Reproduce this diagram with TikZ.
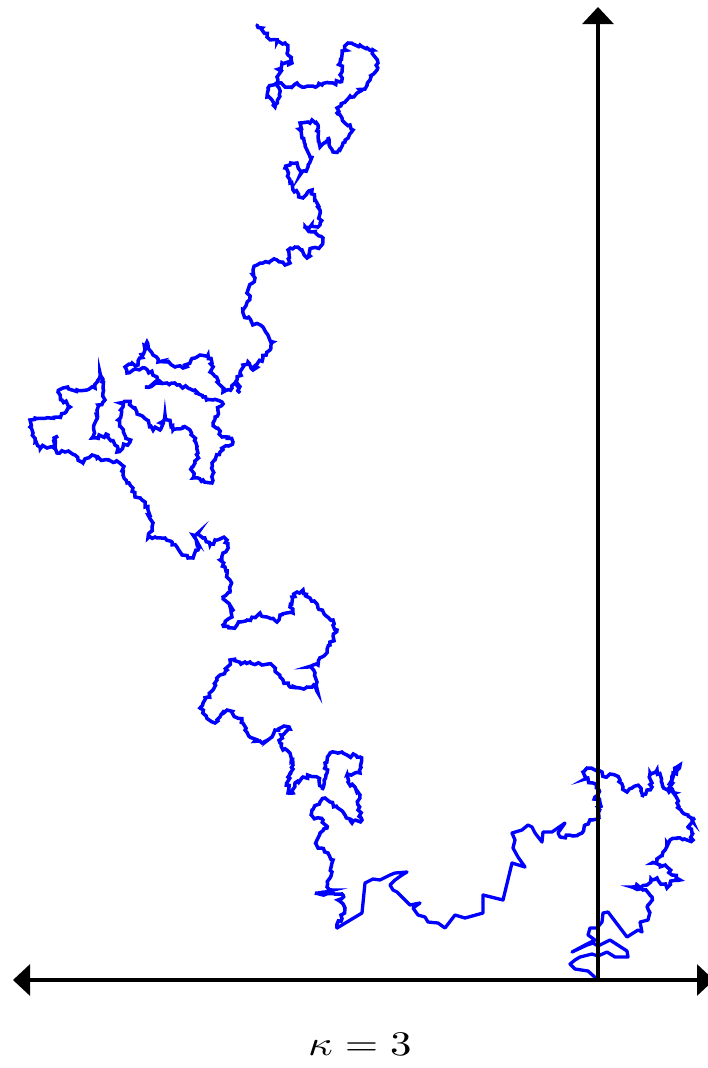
\documentclass[tikz,border=0pt]{standalone}
\usepackage{graphicx}
\usetikzlibrary{arrows.meta,decorations.pathmorphing}

\begin{document}
\begin{tikzpicture}[
	x=1pt, y=-1pt,
	axis/.style={ black, line width=3.2pt, {Triangle[width=31pt,length=17pt]}-{Triangle[width=31pt,length=17pt]} },
	axisup/.style={ black, line width=3.2pt, -{Triangle[width=31pt,length=17pt]} },
	trace/.style={ blue, line width=3.3pt, line join=round, line cap=round },
	tracefuzz/.style={ trace, line width=3.5pt, line join=miter, decorate, decoration={ random steps, segment length=2.8pt, amplitude=2pt } }
]
\pgfmathsetseed{3}
\useasboundingbox (0,0) rectangle (707,1068);

\coordinate (o) at (598,980);
\coordinate (xl) at (13,980);
\coordinate (xr) at (714,980);
\coordinate (yt) at (598,7);

\draw[trace] plot coordinates { (598,980) (588,971) (575,969) (570,964) (575,960) (580,957) (592,954) (598,956) (607,952) (615,957) (628,957) (627,951) (610,940) (598,946) (593,943) (587,945) (572,952) (587,944) (595,940) (588,935) (590,928) (597,928) (602,922) (603,913) (608,912) (627,937) (638,930) (642,932) (640,922) (648,920) (650,912) };

\draw[tracefuzz] plot coordinates { (650,912) (648,905) (652,897) (643,890) (632,887) (647,885) (652,880) (657,878) (667,888) (670,883) (680,880) (672,875) (667,867) (660,865) (652,863) (657,860) (663,852) (670,840) (677,838) (687,840) (693,840) (692,833) (688,827) (693,822) (695,818) (688,815) (682,812) (677,803) (675,793) (670,787) (672,780) (675,773) (677,767) (680,765) (673,777) (669,792) (662,783) (657,770) (650,773) (652,787) (647,790) (642,797) (640,787) (632,788) (627,792) (623,787) (620,780) (615,775) (610,774) (605,777) (602,772) (595,770) (587,768) (583,772) (585,779) (593,783) (599,790) (595,797) (600,803) (599,818) (592,820) (585,825) (582,833) (573,836) (560,837) };

\draw[trace] plot coordinates { (560,837) (558,833) (565,823) (552,832) (543,832) (542,842) (535,833) (532,827) (528,825) (522,830) (512,833) (515,840) (513,848) (518,857) (525,867) (512,863) (503,900) (483,895) (483,913) (465,918) (455,915) (445,928) (438,923) (428,922) (425,917) (418,915) (413,908) (420,903) (410,905) (407,902) (402,897) (397,892) (393,890) (390,885) (395,880) (402,875) (407,872) (395,873) (390,875) (380,880) (373,879) (365,883) (362,913) (337,928) };

\draw[tracefuzz] plot coordinates { (337,928) (345,908) (338,900) (343,895) (315,893) (333,890) (327,887) (330,878) (332,872) (333,860) (328,853) (318,848) (317,840) (320,833) (327,828) (323,820) (313,817) (312,810) (320,802) (325,798) (330,802) (345,815) (352,823) (362,820) (358,810) (360,795) (355,787) (348,782) (347,775) (360,773) (360,757) (347,755) (342,752) (330,753) (325,763) (327,773) (322,790) (317,777) (303,777) (295,783) (293,793) (288,793) (288,777) (293,765) (290,753) (283,750) (280,743) (281,735) (290,729) (284,726) (275,730) (272,737) (262,743) (250,737) (242,720) (227,710) (220,717) (215,723) (205,715) (200,708) (203,703) (208,697) (213,690) (217,680) (220,675) (227,670) (230,660) (243,663) (250,662) (262,665) (272,665) (275,670) (280,677) (290,687) (300,688) (307,687) (315,685) (318,693) (317,682) (315,673) (308,667) (318,665) (322,657) (327,652) (330,645) (337,630) (333,620) (325,615) (318,608) (310,598) (303,590) (297,592) (292,597) (290,607) (293,613) (280,615) (277,622) (267,617) (260,613) (247,620) (240,622) (237,625) (233,628) (223,625) (232,617) (233,610) (223,597) (230,592) (230,580) (225,567) (220,560) (223,553) (228,547) (227,540) (222,538) (215,540) (210,545) (203,538) (198,533) (193,535) (198,550) (193,558) (188,558) (182,555) (177,547) (172,542) (165,538) (155,537) (148,538) (152,527) (148,510) (142,500) (135,497) (133,488) (127,483) (123,475) (122,465) (115,462) (108,460) (97,458) (92,455) (83,463) (75,455) (65,452) (57,453) (55,440) (58,436) (52,447) (47,448) (40,447) (35,442) (33,433) (30,427) (30,420) (35,418) (50,418) (58,417) (65,413) (70,407) (62,400) (58,392) (63,388) (72,390) (87,390) (95,388) (100,373) (103,388) (105,400) (98,405) (92,438) (108,435) (115,445) (117,452) (123,447) (130,442) (118,420) (123,407) (120,403) (130,403) (140,415) (147,420) (148,427) (160,430) (165,415) (173,430) (183,427) (190,430) (197,447) (198,453) (195,463) (192,467) (193,478) (203,480) (212,483) (212,463) (220,452) (233,442) (228,437) (222,437) (213,423) (215,417) (222,402) (213,400) (203,397) (195,390) (177,385) (167,383) (157,383) (145,387) (155,382) (157,377) (145,368) (133,370) (127,373) (125,367) (132,363) (138,365) (145,350) (147,342) (153,355) (158,362) (167,362) (175,367) (183,368) (195,358) (200,355) (208,355) (212,363) (212,373) (217,378) (220,385) (223,392) (232,388) (235,383) (240,393) (237,380) (240,373) (243,365) (248,362) (253,370) (263,358) (270,350) (273,342) (263,327) (252,323) (247,318) (243,313) (250,297) (248,290) (255,278) (253,270) (257,265) (263,263) (277,260) (285,265) (290,263) (288,250) (295,247) (302,250) (307,258) (312,248) (320,247) (323,238) (305,227) (320,225) (320,210) (317,203) (312,190) (307,193) (303,198) (293,190) (290,183) (288,175) (285,168) (290,165) (297,163) (300,175) (308,167) (310,157) (307,150) (302,138) (300,123) (308,122) (312,120) (318,125) (320,147) (328,137) (330,147) (333,152) (340,150) (343,143) (353,130) (350,125) (342,118) (337,113) (337,108) (347,100) (357,93) (367,85) (370,80) (377,70) (378,63) (375,57) (373,50) (360,45) (348,43) (342,55) (340,63) (342,72) (340,82) (333,83) (322,85) (305,87) (297,83) (290,87) (280,83) (268,88) (267,97) (272,100) (275,107) (280,92) (277,77) (282,63) (292,63) (288,50) (285,43) (277,42) (267,37) (262,28) (257,25) };

\draw[axis] (xl) -- (xr);
\draw[axisup] (o) -- (yt);

\node[anchor=base, inner sep=0pt] (kappa) at (360,1055) {\scalebox{4.3}[3.45]{$\kappa = 3$}};

\end{tikzpicture}
\end{document}
